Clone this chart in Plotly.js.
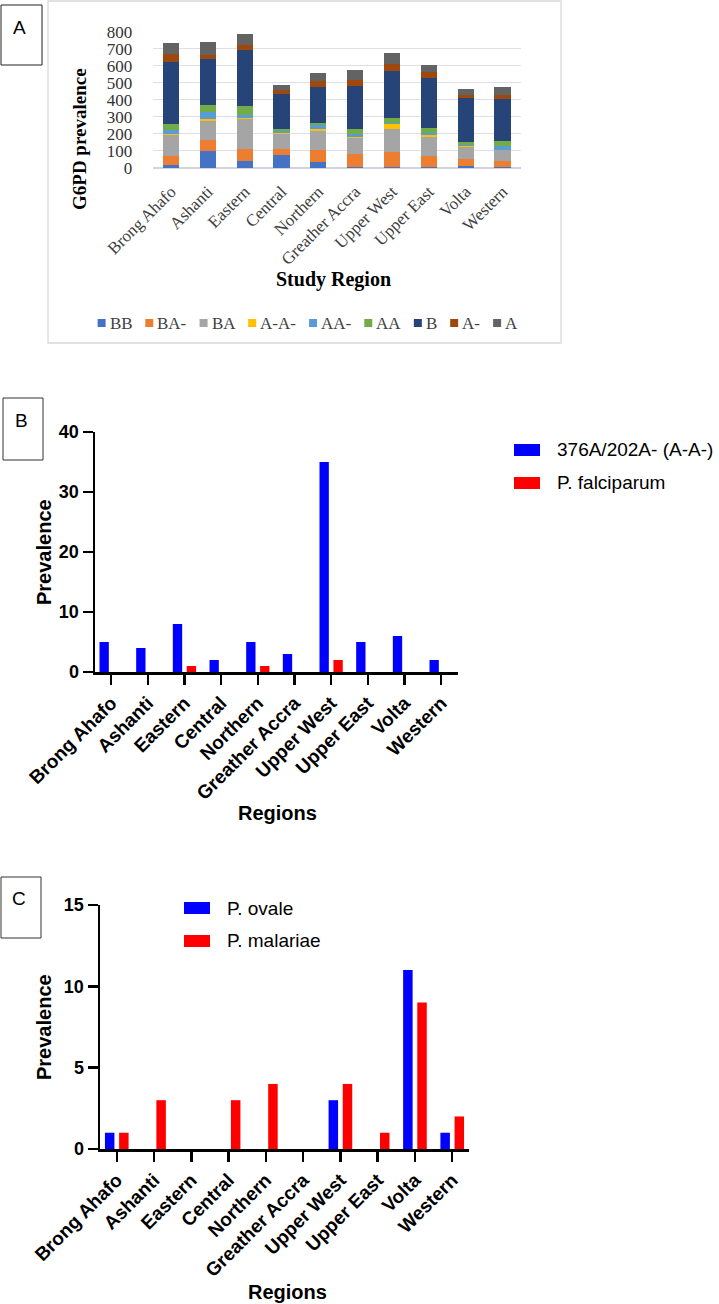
<!DOCTYPE html>
<html><head><meta charset="utf-8">
<script src="https://cdn.plot.ly/plotly-3.0.1.min.js"></script>
<style>
html,body{margin:0;padding:0;background:#fff;}
.p{position:absolute;left:0;width:719px;}
#a{top:0;height:355px;} #b{top:355px;height:485px;} #c{top:840px;height:464px;}
</style></head><body>
<div id="a" class="p"></div><div id="b" class="p"></div><div id="c" class="p"></div>
<script>
// ---------- DATA ----------
const regions = ['Brong Ahafo','Ashanti','Eastern','Central','Northern','Greather Accra','Upper West','Upper East','Volta','Western'];

// Panel A: G6PD genotype counts per region (stacked)
const genotypes = ['BB','BA-','BA','A-A-','AA-','AA','B','A-','A'];
const gBB   = [15,102,40,75,33,8,8,5,14,3];
const gBAm  = [57,65,70,34,71,74,87,63,39,37];
const gBA   = [123,111,176,92,116,97,132,116,71,66];
const gAmAm = [6,9,8,5,9,4,33,8,6,2];
const gAAm  = [25,39,19,9,22,19,2,16,6,24];
const gAA   = [35,41,49,15,14,25,33,29,14,29];
const gB    = [362,270,328,207,209,253,272,293,262,245];
const gAm   = [47,28,33,19,35,35,41,33,19,23];
const gA    = [65,72,65,34,48,62,66,39,33,45];
const yTicksA = [0,100,200,300,400,500,600,700,800];

// Panel B
const seriesB = ['376A/202A- (A-A-)','P. falciparum'];
const bAA = [5,4,8,2,5,3,35,5,6,2];
const bPf = [0,0,1,0,1,0,2,0,0,0];
const yTicksB = [0,10,20,30,40];

// Panel C
const seriesC = ['P. ovale','P. malariae'];
const cPo = [1,0,0,0,0,0,3,0,11,1];
const cPm = [1,3,0,3,4,0,4,1,9,2];
const yTicksC = [0,5,10,15];

// ---------- STYLE ----------
const W = 719;
const colorsA = ['#4472C4','#ED7D31','#A5A5A5','#FFC000','#5B9BD5','#70AD47','#264478','#9E480E','#636363'];
const colorsBC = ['#0000FF','#FF0000'];
const SERIF = '"Liberation Serif","Times New Roman",serif';
const SANS = '"Liberation Sans",Arial,Helvetica,sans-serif';
const cfg = {staticPlot:true, displayModeBar:false};

function mk(top, h){
  return {
    fx: px => px / W,
    fy: py => 1 - (py - top) / h
  };
}
function rect(m, x0, y0, x1, y1, line, fill){
  return {type:'rect', xref:'paper', yref:'paper', x0:m.fx(x0), x1:m.fx(x1), y0:m.fy(y1), y1:m.fy(y0),
          line: line || {width:0}, fillcolor: fill || 'rgba(0,0,0,0)', layer:'above'};
}
function txt(m, x, y, text, font, opts){
  return Object.assign({xref:'paper', yref:'paper', x:m.fx(x), y:m.fy(y), text:text, showarrow:false,
          font:font, xanchor:'center', yanchor:'middle', borderpad:0}, opts||{});
}

// ---------- PANEL A ----------
(function(){
  const top = 0, h = 355, m = mk(top, h);
  const vals = [gBB,gBAm,gBA,gAmAm,gAAm,gAA,gB,gAm,gA];
  const traces = genotypes.map((g,i)=>({
    type:'bar', name:g, x:regions, y:vals[i], marker:{color:colorsA[i], line:{width:0}}, showlegend:false
  }));
  const shapes = [
    rect(m, 48, 1, 561, 343, {color:'#d9d9d9', width:1.3}),
    rect(m, 1, 5, 42, 65, {color:'#222', width:1})
  ];
  const ann = [
    txt(m, 19, 27, 'A', {family:SANS, size:19, color:'#000'}),
    txt(m, 80, 139, 'G6PD prevalence', {family:SERIF, size:19, color:'#000', weight:'bold'}, {textangle:-90}),
    txt(m, 333, 279, 'Study Region', {family:SERIF, size:20, color:'#000', weight:'bold'})
  ];
  // legend built from genotype names and colours
  const ctx = document.createElement('canvas').getContext('2d');
  ctx.font = '17px "Liberation Serif"';
  const ws = genotypes.map(g => ctx.measureText(g).width);
  const mS = 8, gapT = 3, gapI = 14;
  const total = ws.reduce((s,w)=>s+mS+gapT+w,0) + gapI*(genotypes.length-1);
  let cur = 307 - total/2;
  const ly = 323;
  genotypes.forEach((g,i)=>{
    shapes.push(rect(m, cur, ly-4, cur+mS, ly+4, {width:0}, colorsA[i]));
    ann.push(txt(m, cur+mS+gapT, ly, g, {family:SERIF, size:17, color:'#404040'}, {xanchor:'left'}));
    cur += mS + gapT + ws[i] + gapI;
  });
  const layout = {
    width:W, height:h, margin:{l:0,r:0,t:0,b:0}, paper_bgcolor:'#fff', plot_bgcolor:'#fff',
    barmode:'stack', bargap:0.56, showlegend:false,
    xaxis:{domain:[m.fx(152.6), m.fx(521)], type:'category', range:[-0.5,9.5],
      tickangle:-45, tickfont:{family:SERIF, size:17, color:'#404040'},
      ticks:'outside', ticklen:6, tickcolor:'rgba(0,0,0,0)', showline:false, showgrid:false, zeroline:false},
    yaxis:{domain:[m.fy(168), m.fy(31.7)], range:[0,800], tickvals:yTicksA, ticktext:yTicksA.map(String),
      tickfont:{family:SERIF, size:17, color:'#333'}, ticks:'outside', ticklen:16, tickcolor:'rgba(0,0,0,0)',
      showgrid:true, gridcolor:'#dcdfe6', gridwidth:1, zeroline:true, zerolinecolor:'#d0d3da', zerolinewidth:1.5, showline:false},
    shapes:shapes, annotations:ann
  };
  Plotly.newPlot('a', traces, layout, cfg);
})();

// ---------- PANELS B & C ----------
function panel(id, top, h, opt){
  const m = mk(top, h);
  const traces = opt.names.map((n,i)=>({
    type:'bar', name:n, x:regions, y:opt.vals[i], marker:{color:colorsBC[i], line:{width:0}}, showlegend:false
  }));
  const shapes = [rect(m, opt.box[0], opt.box[1], opt.box[2], opt.box[3], {color:'#333', width:1})];
  const ann = [
    txt(m, opt.letterPos[0], opt.letterPos[1], opt.letter, {family:SANS, size:19, color:'#000'}),
    txt(m, 44, (opt.y0px+opt.y1px)/2, 'Prevalence', {family:SANS, size:20, color:'#000', weight:'bold'}, {textangle:-90}),
    txt(m, opt.xt[0], opt.xt[1], 'Regions', {family:SANS, size:20, color:'#000', weight:'bold'})
  ];
  opt.names.forEach((n,i)=>{
    const cy = opt.leg[1] + i*33;
    shapes.push(rect(m, opt.leg[0], cy-6, opt.leg[0]+26, cy+6, {width:0}, colorsBC[i]));
    ann.push(txt(m, opt.leg[0]+42, cy, n, {family:SANS, size:19, color:'#000'}, {xanchor:'left'}));
  });
  const layout = {
    width:W, height:h, margin:{l:0,r:0,t:0,b:0}, paper_bgcolor:'#fff', plot_bgcolor:'#fff',
    barmode:'group', bargap:0.24, bargroupgap:0.33, showlegend:false,
    xaxis:{domain:[m.fx(opt.x0px), m.fx(opt.x1px)], type:'category', range:opt.xr,
      tickangle:-45, tickfont:{family:SANS, size:19, color:'#000', weight:'bold'},
      ticks:'outside', ticklen:10, tickwidth:2.5, tickcolor:'#000',
      showline:true, linecolor:'#000', linewidth:2.5, showgrid:false, zeroline:false},
    yaxis:{domain:[m.fy(opt.y0px), m.fy(opt.y1px)], range:opt.yr, tickvals:opt.yt, ticktext:opt.yt.map(String),
      tickfont:{family:SANS, size:18, color:'#000', weight:'bold'},
      ticks:'outside', ticklen:10, tickwidth:2.5, tickcolor:'#000',
      showline:true, linecolor:'#000', linewidth:2.5, showgrid:false, zeroline:false},
    shapes:shapes, annotations:ann
  };
  Plotly.newPlot(id, traces, layout, cfg);
}

panel('b', 355, 485, {
  names:seriesB, vals:[bAA,bPf], yt:yTicksB, yr:[0,40], xr:[-0.44,9.46],
  x0px:95, x1px:458, y0px:672, y1px:432,
  box:[3,398,43,460], letter:'B', letterPos:[21,421], xt:[277,813], leg:[514,450]
});
panel('c', 840, 464, {
  names:seriesC, vals:[cPo,cPm], yt:yTicksC, yr:[0,15], xr:[-0.45,9.45],
  x0px:100, x1px:469, y0px:1149, y1px:905,
  box:[1,877,41,938], letter:'C', letterPos:[19,898], xt:[287,1292], leg:[184,908]
});
</script>
</body></html>
